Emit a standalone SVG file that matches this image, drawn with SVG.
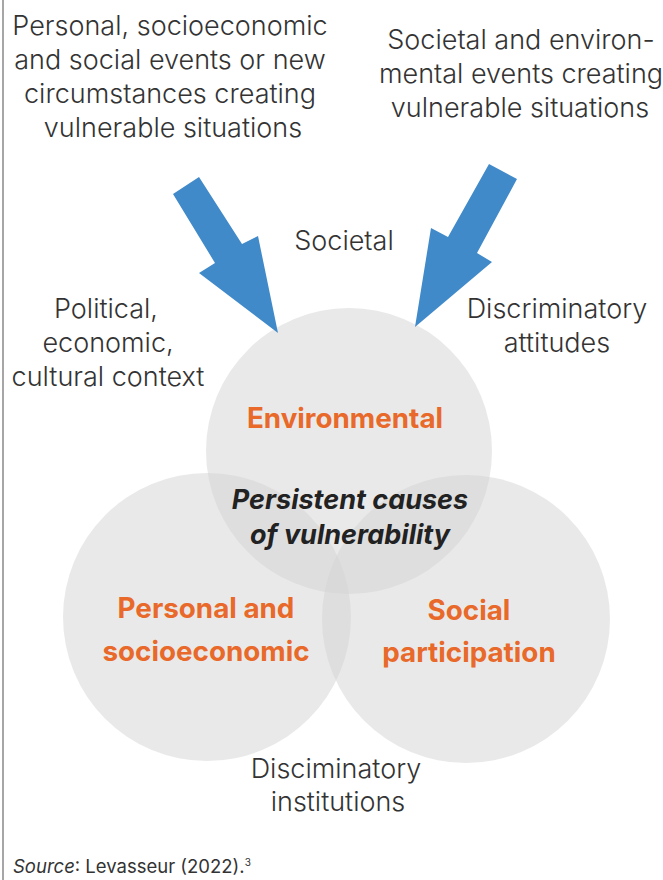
<svg xmlns="http://www.w3.org/2000/svg" width="663" height="880" viewBox="0 0 663 880">
<style>
.lbl{font-family:Inter,Roboto,"Liberation Sans",sans-serif;font-weight:300;font-size:27px;fill:#333;text-anchor:middle}
.cat{font-family:Inter,Roboto,"Liberation Sans",sans-serif;font-weight:700;font-size:27.8px;fill:#E8692A;text-anchor:middle}
.core{font-family:Inter,Roboto,"Liberation Sans",sans-serif;font-weight:700;font-style:italic;font-size:27px;fill:#222;text-anchor:middle}
.circ{fill:#d3d3d3;fill-opacity:0.5}
.arrow{fill:#418AC9}
.src{font-family:Inter,Roboto,"Liberation Sans",sans-serif;font-size:18.5px;fill:#333}
</style>
<rect width="663" height="880" fill="#fff"/>
<line x1="3" y1="0" x2="3" y2="880" stroke="#888" stroke-width="1.5"/>

<g id="circle-environmental">
<circle class="circ" cx="349" cy="451" r="143"/>
</g>
<g id="circle-personal">
<circle class="circ" cx="207" cy="617" r="144"/>
</g>
<g id="circle-social">
<circle class="circ" cx="466" cy="619" r="144"/>
</g>

<g id="connectors">
<polygon class="arrow" points="173,194 199,177 242,244 258,236 278,333 199,273 215,263"/>
<polygon class="arrow" points="489,164 517,179 477,253 492,262 415,327 431,228 448,237"/>
</g>

<g id="text-top-left">
<text class="lbl" x="170" y="35">Personal, socioeconomic</text>
<text class="lbl" x="170" y="69">and social events or new</text>
<text class="lbl" x="170" y="103">circumstances creating</text>
<text class="lbl" x="173" y="137">vulnerable situations</text>
</g>
<g id="text-top-right">
<text class="lbl" x="521" y="49">Societal and environ-</text>
<text class="lbl" x="521" y="83">mental events creating</text>
<text class="lbl" x="520" y="117">vulnerable situations</text>
</g>
<g id="text-societal">
<text class="lbl" x="344" y="250">Societal</text>
</g>
<g id="text-political">
<text class="lbl" x="106" y="318">Political,</text>
<text class="lbl" x="108" y="352">economic,</text>
<text class="lbl" x="108" y="386">cultural context</text>
</g>
<g id="text-attitudes">
<text class="lbl" x="557" y="318">Discriminatory</text>
<text class="lbl" x="557" y="352">attitudes</text>
</g>
<g id="text-environmental">
<text class="cat" x="345" y="428">Environmental</text>
</g>
<g id="text-core">
<text class="core" x="350" y="509">Persistent causes</text>
<text class="core" x="350" y="544">of vulnerability</text>
</g>
<g id="text-personal">
<text class="cat" x="206" y="618">Personal and</text>
<text class="cat" x="206" y="661">socioeconomic</text>
</g>
<g id="text-social">
<text class="cat" x="469" y="620">Social</text>
<text class="cat" x="469" y="662">participation</text>
</g>
<g id="text-institutions">
<text class="lbl" x="336" y="778">Disciminatory</text>
<text class="lbl" x="338" y="811">institutions</text>
</g>
<g id="source">
<text class="src" x="13" y="873"><tspan font-style="italic">Source</tspan>: Levasseur (2022).<tspan font-size="10" dy="-7">3</tspan></text>
</g>
</svg>
